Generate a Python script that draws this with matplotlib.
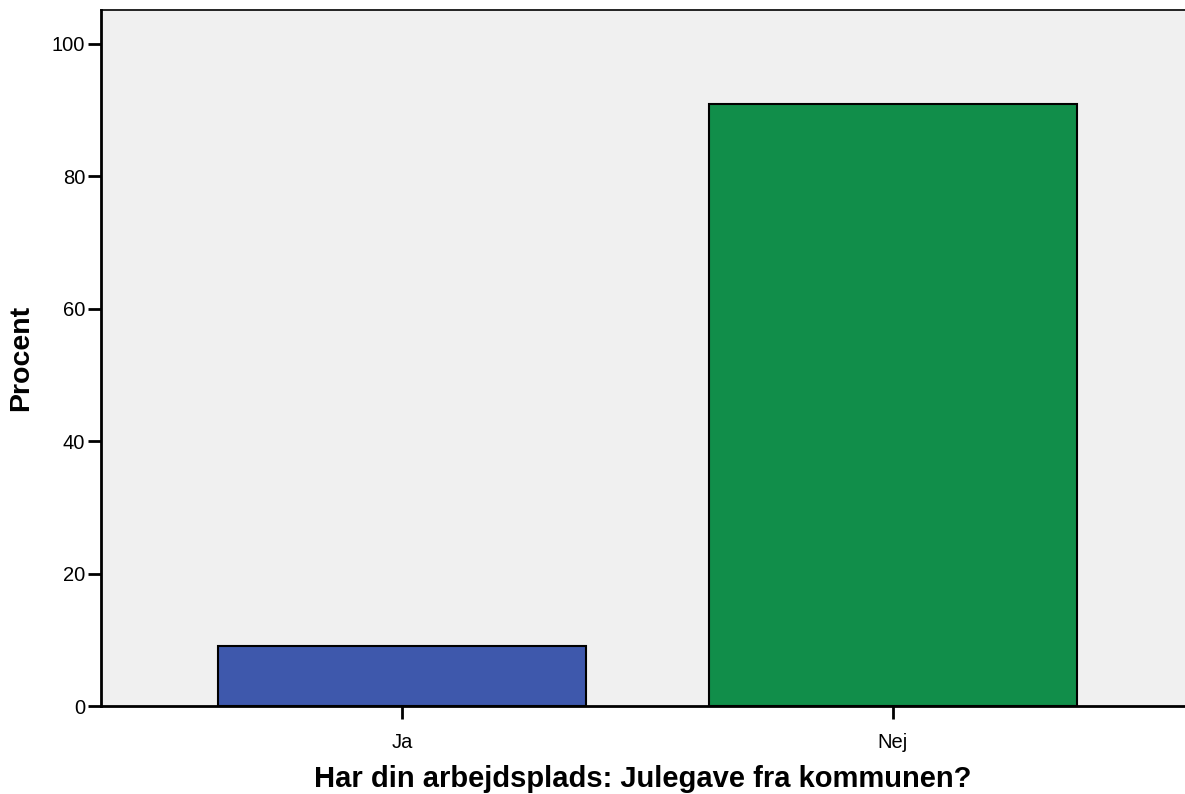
import matplotlib
matplotlib.use("Agg")
import matplotlib.pyplot as plt

categories = ["Ja", "Nej"]
values = [9.1, 90.9]
colors = ["#3e58ac", "#118e4a"]
yticks = [0, 20, 40, 60, 80, 100]

plt.rcParams['font.family'] = ['Liberation Sans', 'DejaVu Sans']

fig = plt.figure(figsize=(11.85, 7.94), dpi=100)
ax = fig.add_axes([101/1185, 1 - 706/794, 1 - 101/1185, (706 - 10)/794])
ax.set_facecolor("#f0f0f0")

x = list(range(len(categories)))
ax.bar(x, values, width=0.75, color=colors, edgecolor="black", linewidth=1.5, zorder=3)

ax.set_xlim(-0.613, 1.595)
ax.set_ylim(0, 105.1)
ax.set_xticks(x)
ax.set_xticklabels(categories)
ax.set_yticks(yticks)

ax.tick_params(axis='both', direction='out', length=9.3, width=2, labelsize=14.5, color='black')
ax.tick_params(axis='y', pad=2)
ax.tick_params(axis='x', pad=10.5)

for s in ['left', 'bottom']:
    ax.spines[s].set_linewidth(2)
ax.spines['top'].set_linewidth(1.2)
ax.spines['right'].set_visible(False)

ax.set_ylabel("Procent", fontsize=20.5, fontweight='bold', labelpad=12.5)
ax.set_xlabel("Har din arbejdsplads: Julegave fra kommunen?", fontsize=21, fontweight='bold', labelpad=9)

fig.savefig("out.png", dpi=100)
